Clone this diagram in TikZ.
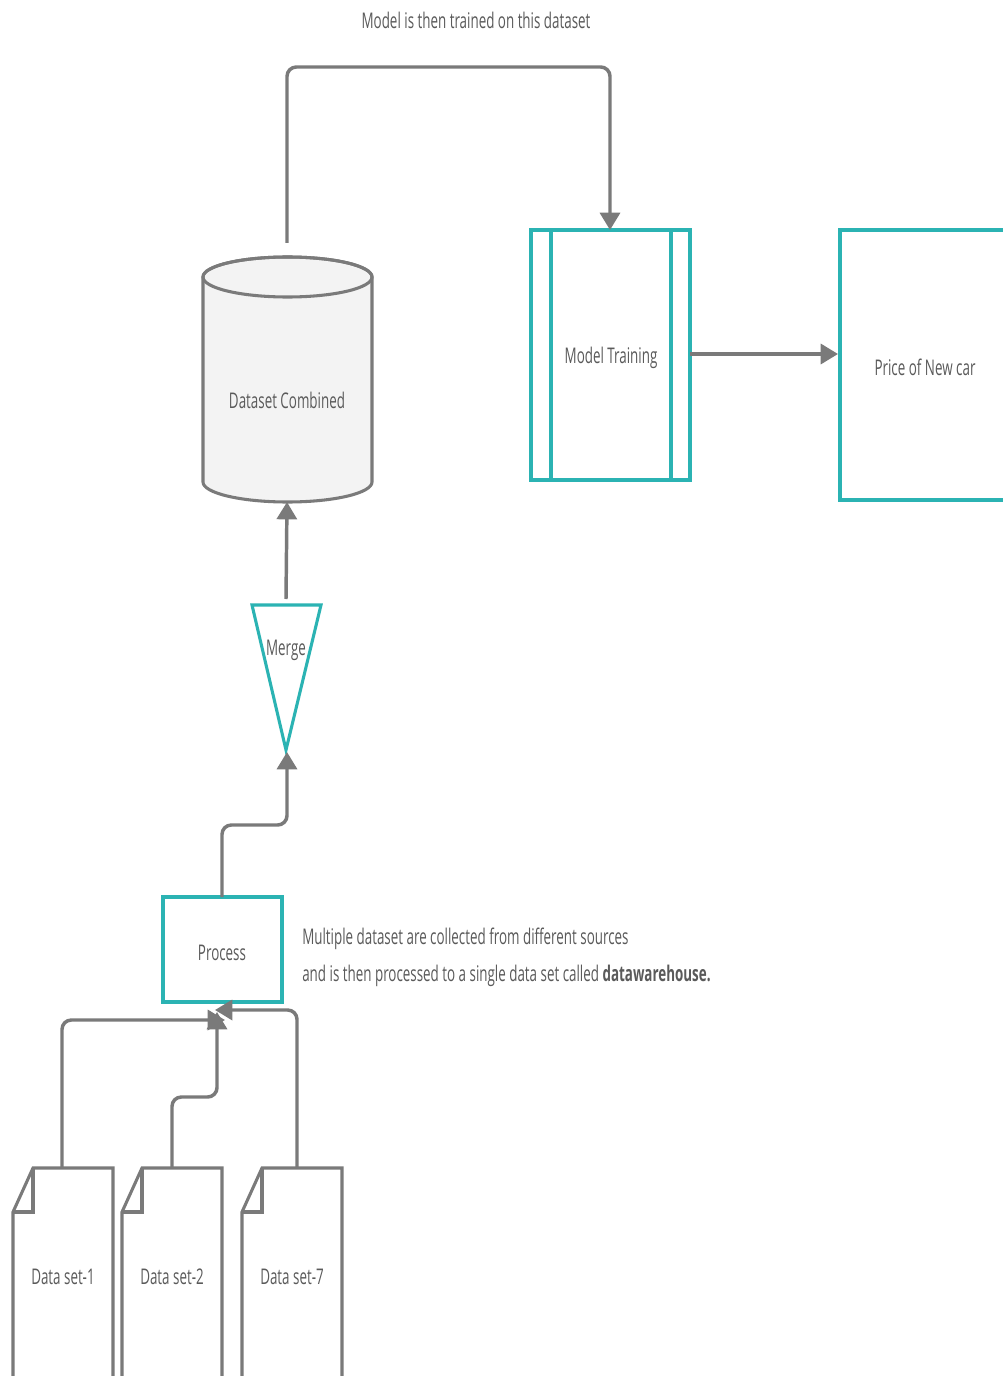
\documentclass[tikz,border=0pt]{standalone}
\usepackage{fontspec}
\setmainfont{Open Sans}[FakeStretch=0.62]
\usetikzlibrary{arrows.meta}
\definecolor{tealc}{HTML}{2BB3B3}
\definecolor{linec}{HTML}{7A7A7A}
\definecolor{txtc}{HTML}{5A5A5A}
\definecolor{cylc}{HTML}{F3F3F3}
\begin{document}
\begin{tikzpicture}[x=0.75pt,y=-0.75pt,
  conn/.style={draw=linec,line width=2.6pt,rounded corners=7pt,-{Triangle[length=13pt,width=15pt]}},
  tealshape/.style={draw=tealc,line width=2.3pt},
  grayshape/.style={draw=linec,line width=2.3pt},
  lbl/.style={text=txtc,font=\fontsize{16.2}{19}\selectfont,inner sep=0pt}]
\useasboundingbox (0,0) rectangle (1002,1376);
\fill[white] (0,0) rectangle (1002,1376);

% title
\node[lbl] (title) at (476,20) {Model is then trained on this dataset};

% cylinder
\draw[grayshape,fill=cylc] (203,277) -- (203,482) arc[start angle=180,end angle=0,x radius=84.5,y radius=20] -- (372,277) arc[start angle=0,end angle=-180,x radius=84.5,y radius=20] -- cycle;
\draw[grayshape] (287.5,277) ellipse [x radius=84.5,y radius=20];
\node[lbl] (cyl) at (287,400) {Dataset Combined};
\coordinate (cyltop) at (287,243);
\coordinate (cylbot) at (287,502);

% model training
\draw[tealshape] (531,230) rectangle (690,480);
\draw[tealshape] (551,230) -- (551,480);
\draw[tealshape] (671,230) -- (671,480);
\node[lbl] (model) at (611,358) {Model Training};
\coordinate (modeltop) at (610,230);
\coordinate (modelright) at (690,354);

% price
\draw[tealshape] (840,230) rectangle (1010,500);
\node[lbl] (price) at (925,367) {Price of New car};
\coordinate (priceleft) at (838,354);

% merge
\draw[tealshape] (252,605) -- (321,605) -- (286,750) -- cycle;
\node[lbl] (merge) at (286,650) {Merge};
\coordinate (mergetop) at (286,599);
\coordinate (mergebot) at (287,752);

% process
\draw[tealshape] (163,897) rectangle (282,1002);
\node[lbl] (process) at (222,953) {Process};
\coordinate (proctop) at (222,897);
\coordinate (procin1) at (225,1020);
\coordinate (procin2) at (217,1012);
\coordinate (procin3) at (215,1010);

% note
\node[lbl,anchor=west] (note1) at (302,939) {Multiple dataset are collected from different sources};
\node[lbl,anchor=west] (note2) at (302,976) {and is then processed to a single data set called \textbf{datawarehouse.}};

% documents
\foreach \x/\n/\t in {13/d1/Data set-1,122/d2/Data set-2,242/d3/Data set-7}{
  \draw[grayshape,fill=white] (\x+20,1168) -- (\x+100,1168) -- (\x+100,1400) -- (\x,1400) -- (\x,1212) -- cycle;
  \draw[grayshape] (\x+20,1168) -- (\x+20,1212) -- (\x,1212);
  \node[lbl] (\n) at (\x+50,1277) {\t};
}
\coordinate (d1top) at (62,1168);
\coordinate (d2top) at (172,1168);
\coordinate (d3top) at (297,1168);

% connectors
\draw[conn] (cyltop) -- (287,67) -- (610,67) -- (modeltop);
\draw[conn] (modelright) -- (priceleft);
\draw[conn] (mergetop) -- (cylbot);
\draw[conn] (proctop) -- (222,825) -- (287,825) -- (mergebot);
\draw[conn] (d1top) -- (62,1020) -- (procin1);
\draw[conn] (d2top) -- (172,1097) -- (217,1097) -- (procin2);
\draw[conn] (d3top) -- (297,1010) -- (procin3);
\end{tikzpicture}
\end{document}
